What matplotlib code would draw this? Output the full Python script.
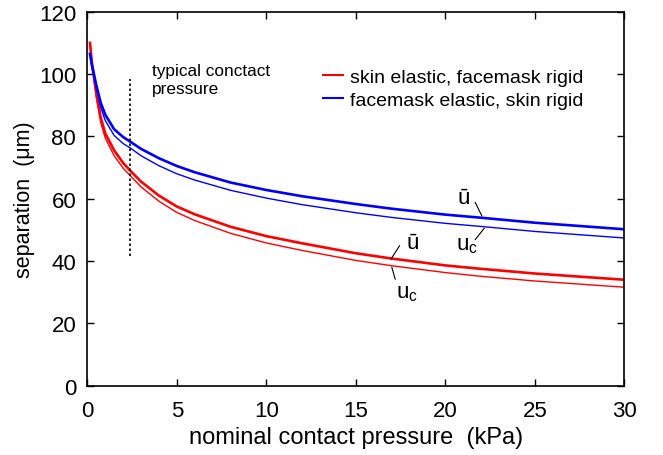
import matplotlib
matplotlib.use("Agg")
import matplotlib.pyplot as plt

plt.rcParams['font.family'] = ['Liberation Sans', 'DejaVu Sans']
plt.rcParams['mathtext.fontset'] = 'custom'
plt.rcParams['mathtext.rm'] = 'Liberation Sans'
plt.rcParams['mathtext.it'] = 'Liberation Sans'

pressure = [0.15, 0.25, 0.35, 0.5, 0.75, 1.0, 1.5, 2.0, 2.4, 3.0, 4.0, 5.0, 6.0, 8.0,
            10, 12, 15, 17, 20, 22, 25, 30]
red_ubar = [110, 104, 100, 94, 86, 81, 75.5, 71.5, 69, 65.5, 61, 57.5, 55, 51,
            48, 45.7, 42.5, 40.8, 38.6, 37.5, 36, 34]
red_uc = [110, 103, 99, 92.5, 84.5, 79.5, 73.8, 69.8, 67.4, 63.8, 59.2, 55.6, 53, 48.9,
          45.8, 43.4, 40.2, 38.5, 36.3, 35.1, 33.6, 31.6]
blue_ubar = [106.5, 103, 100.5, 96.5, 90.8, 87, 82.3, 79.8, 78.3, 76, 73, 70.5, 68.5, 65.2,
             62.8, 60.8, 58.3, 56.8, 54.9, 53.9, 52.3, 50.2]
blue_uc = [106.5, 102.5, 99.8, 95.5, 89.3, 85.1, 80.3, 77.7, 76.3, 73.8, 70.6, 68, 66, 62.7,
           60.2, 58.1, 55.5, 54.0, 52.1, 51.1, 49.5, 47.4]

typical_pressure = 2.39

fig = plt.figure(figsize=(6.63, 4.56), dpi=100)
ax = fig.add_axes([0.1317, 0.152, 0.810, 0.820])

ax.plot(pressure, red_ubar, color='#ff0000', lw=1.9, label='skin elastic, facemask rigid')
ax.plot(pressure, red_uc, color='#ff0000', lw=1.0)
ax.plot(pressure, blue_ubar, color='#0000ff', lw=1.9, label='facemask elastic, skin rigid')
ax.plot(pressure, blue_uc, color='#0000ff', lw=1.0)

ax.plot([typical_pressure, typical_pressure], [41.6, 98.3], color='black', lw=1.2,
        ls=(0, (1.5, 1.5)))
ax.text(3.62, 103.6, 'typical conctact\npressure', fontsize=12.4, va='top', ha='left',
        linespacing=1.28)

# curve labels with leader lines
ax.text(21.0, 60.4, '\u016b', fontsize=16, ha='center', va='center')
ax.plot([21.67, 22.04], [58.8, 54.5], color='black', lw=0.8)
ax.text(21.2, 45.3, r'$\mathregular{u_c}$', fontsize=16, ha='center', va='center')
ax.plot([21.67, 22.17], [46.9, 50.5], color='black', lw=0.8)
ax.text(18.19, 45.8, '\u016b', fontsize=16, ha='center', va='center')
ax.plot([17.44, 16.96], [44.9, 40.6], color='black', lw=0.8)
ax.text(17.85, 29.8, r'$\mathregular{u_c}$', fontsize=16, ha='center', va='center')
ax.plot([17.01, 17.2], [38.0, 34.2], color='black', lw=0.8)

ax.set_xlim(0, 30)
ax.set_ylim(0, 120)
ax.set_xticks([0, 5, 10, 15, 20, 25, 30])
ax.set_yticks([0, 20, 40, 60, 80, 100, 120])
ax.tick_params(direction='in', top=True, right=True, labelsize=16, length=5, width=1, pad=8)
ax.tick_params(axis='x', pad=10)
for s in ax.spines.values():
    s.set_linewidth(1.2)

ax.set_xlabel('nominal contact pressure  (kPa)', fontsize=17, labelpad=4)
ax.set_ylabel('separation  (\u03bcm)', fontsize=15.5, labelpad=3)

leg = ax.legend(loc='upper left', bbox_to_anchor=(0.439, 0.849), frameon=False, fontsize=14,
                handlelength=1.03, handletextpad=0.35, labelspacing=0.3, borderaxespad=0,
                borderpad=0)
for l in leg.get_lines():
    l.set_linewidth(1.5)

fig.savefig('out.png', dpi=100)
